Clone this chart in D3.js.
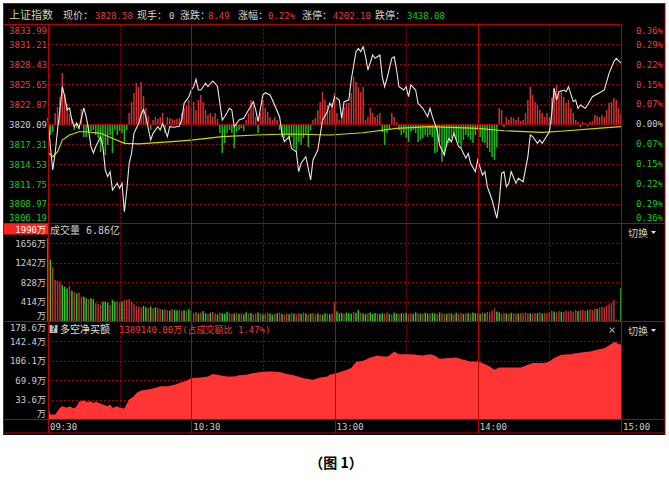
<!DOCTYPE html>
<html><head><meta charset="utf-8">
<script src="https://cdn.jsdelivr.net/npm/d3@7"></script>
<style>
html,body{margin:0;padding:0;background:#fff;}
svg{display:block;}
text{font-family:"DejaVu Sans Mono","Noto Sans CJK SC",monospace;}
</style></head><body>
<svg id="c" width="669" height="482"></svg>
<script>
// ---------------- DATA ----------------
const priceTicks = [3833.99,3831.21,3828.43,3825.65,3822.87,3820.09,3817.31,3814.53,3811.75,3808.97,3806.19];
const pctLabels  = ["0.36%","0.29%","0.22%","0.15%","0.07%","0.00%","0.07%","0.15%","0.22%","0.29%","0.36%"];
const volTicks   = [1656,1242,828,414];
const netTicks   = [178.6,142.4,106.1,69.9,33.6];
const timeTicks  = [0,60,120,180,240];
const timeLabels = ["09:30","10:30","13:00","14:00","15:00"];
const halfTicks  = [30,90,150,210];

// price line (minute index, price)
const priceMin = [0,1,2,3,4,5,6,7,8,9,10,11,12,13,15,16,17,18,19,20,22,23,24,25,26,27,29,30,31,32,33,34,35,36,38,39,40,41,43,44,46,47,48,50,51,53,55,56,57,59,60,61,62,63,64,66,67,69,70,71,73,74,76,77,78,80,82,84,86,87,88,90,91,93,94,97,98,99,101,102,104,105,106,108,110,111,113,114,115,117,118,119,120,122,123,124,126,127,129,130,131,132,133,134,136,137,139,140,141,142,144,145,146,147,149,150,151,152,154,155,157,159,160,161,163,164,166,167,168,169,170,172,173,175,176,177,179,180,182,183,184,186,188,189,190,191,192,193,194,196,197,199,201,202,203,205,206,207,210,211,212,213,214,216,217,218,220,221,222,223,225,226,228,231,233,235,237,238,240];
const priceVal = [3820.93,3816.92,3813.66,3816.04,3819.25,3822.05,3825.30,3823.90,3822.05,3822.33,3820.65,3819.71,3820.23,3819.53,3822.33,3821.11,3819.25,3816.92,3816.04,3816.92,3818.32,3816.92,3813.66,3812.73,3813.43,3810.87,3811.81,3811.11,3811.81,3807.84,3810.87,3814.60,3816.00,3818.79,3820.19,3821.35,3822.14,3821.11,3817.85,3818.79,3819.71,3819.25,3820.19,3818.32,3819.71,3819.63,3819.81,3820.65,3822.98,3823.90,3824.84,3825.30,3826.33,3824.84,3824.84,3825.78,3825.30,3826.10,3825.78,3825.30,3820.65,3821.11,3822.28,3822.05,3819.71,3820.65,3820.89,3822.05,3823.21,3822.05,3820.41,3824.14,3824.46,3824.14,3823.44,3821.11,3818.79,3817.62,3818.32,3816.70,3816.22,3813.43,3814.60,3815.52,3812.27,3815.06,3816.46,3818.55,3820.65,3821.81,3822.98,3822.51,3823.90,3823.44,3820.89,3823.21,3823.44,3826.24,3830.19,3830.66,3830.19,3830.89,3829.49,3827.63,3829.73,3829.27,3829.73,3826.70,3825.30,3826.47,3829.27,3829.49,3827.63,3825.30,3824.84,3825.30,3823.90,3825.54,3824.84,3822.98,3822.28,3821.11,3822.28,3821.11,3819.25,3817.16,3815.76,3817.39,3818.09,3817.62,3818.79,3816.92,3816.70,3815.30,3816.00,3814.60,3813.43,3815.06,3812.97,3813.43,3811.33,3809.47,3806.92,3809.24,3813.20,3813.43,3811.33,3811.81,3813.43,3811.81,3812.50,3812.03,3815.52,3818.55,3818.32,3817.39,3817.85,3817.39,3819.01,3821.58,3825.08,3823.44,3824.60,3824.84,3824.60,3825.30,3823.21,3823.44,3822.28,3822.74,3822.28,3822.74,3823.90,3824.46,3824.84,3827.17,3828.79,3829.27,3828.58];

// average price line
const avgMin = [0,2,4,6,9,13,16,22,27,32,38,52,60,73,87,101,118,132,146,160,180,191,207,216,230,240];
const avgVal = [3816.10,3815.52,3816.22,3817.85,3818.55,3819.01,3819.01,3818.79,3818.09,3817.39,3817.30,3817.62,3817.85,3818.32,3818.55,3818.69,3818.55,3818.87,3819.49,3819.71,3819.49,3819.15,3818.93,3819.11,3819.49,3819.71];

// red/green strength bars in the price panel, one per minute
const strength = [0,-11,-8,11,17,27,51,30,20,10,5,
 -6,-4,-5,15,-13,-13,-8,-7,-6,-11,
 -14,-28,-20,-31,-21,-11,-29,-6,-11,-7,
 -9,-19,-6,11,22,31,41,37,42,28,
 16,8,-6,4,7,5,7,11,-9,7,
 6,5,4,5,6,11,16,19,24,17,
 22,14,24,29,22,14,9,11,7,11,
 5,-9,-29,-19,-9,-6,-9,-24,-8,-6,
 -4,-7,4,11,24,19,7,-9,11,24,
 16,12,7,4,7,4,-6,-13,-14,-11,
 -16,-13,-24,-28,-18,-21,-14,-11,-23,-6,
 4,6,14,22,32,24,19,14,21,31,
 11,4,11,17,21,21,31,47,42,37,
 32,37,4,7,16,11,7,9,11,-8,
 -21,-9,-6,11,7,2,-6,-11,-9,-14,
 -18,-8,-6,-9,-18,-16,-14,-11,-13,-11,
 -13,-29,-28,-18,-38,-31,-23,-19,-14,-11,
 -16,-19,-24,-16,-11,-13,-16,-19,-11,-6,
 -13,-18,-19,-24,-28,-33,-36,-23,16,14,
 -3,7,4,7,6,4,7,3,4,11,
 24,37,29,22,19,14,11,7,11,7,
 26,36,39,31,34,27,21,24,16,11,
 4,2,-3,2,1,-2,2,3,9,8,
 7,9,7,14,21,22,26,24,16,10];

// volume per minute (万) and its colour (r = up, g = down)
const volume = [1760,1310,1145,880,860,840,770,735,700,750,650,630,595,610,525,525,490,470,490,470,
 385,370,350,420,420,400,350,455,420,420,400,420,455,455,475,420,370,330,315,300,
 330,300,280,315,280,300,290,270,250,260,240,230,260,245,235,250,225,240,230,260,
 230,180,200,170,190,220,175,160,185,200,170,150,190,175,165,205,180,160,170,185,
 160,175,150,195,170,180,155,165,190,175,150,160,185,170,145,165,175,190,160,150,
 170,155,180,165,150,175,160,190,170,155,165,180,150,170,160,145,175,165,155,170,
 400,215,170,180,160,190,175,165,200,185,240,180,170,160,175,190,165,180,170,160,
 175,165,190,160,150,185,170,160,175,165,180,155,170,160,190,175,165,160,185,170,
 165,180,170,155,190,175,165,160,180,170,155,185,165,175,160,170,180,165,190,175,
 170,160,185,175,200,190,230,280,210,190,165,175,170,160,185,175,165,170,180,175,
 190,175,170,165,180,175,190,170,185,175,200,230,210,195,220,205,200,230,215,225,
 210,240,220,235,245,225,240,260,250,270,265,290,310,300,340,360,390,450,45,30,
 700];
const volDir = "ggrrrrgggrgrgrrggrgg"+"rrrgggrggrrgrrrrrrrr"+"ggrgrgrrgrrgrggrrgrg"+"grrgrggrgrrgrgggrrgr"+
 "grggrgrrgrgrrggrgrgr"+"rgrgrrgrgrgrrgrggrgr"+"rgggrgggrggrggrgggrg"+"grrgrggrgrgrrggrgrgg"+
 "rggrgrrgrgrgrrgrgrgg"+"rgrgrrrrggrrgrgrrgrr"+"rrgrrgrgrrrrgrrgrrrr"+"rrgrrrgrrrgrrrrrrrrr"+"g";

// net buy (多空净买额) curve (minute, value)
const netMin = [0,1,3,4,5,6,8,9,11,12,13,15,16,18,19,20,22,23,25,26,27,29,30,32,33,34,36,37,39,41,44,47,50,53,55,58,60,64,67,69,72,75,78,80,83,86,89,92,94,97,100,103,106,108,111,114,117,118,121,124,127,129,132,135,138,140,142,143,145,147,152,154,157,160,162,164,168,171,174,177,180,182,185,187,189,194,198,201,203,208,210,212,215,219,221,224,227,230,233,235,237,238,239,240];
const netVal = [21.9,6.6,6.6,12.7,18.9,21.9,18.9,21.9,17.6,21.9,30,32.4,30,31,28,30,26.3,25,21.9,25,18.9,21.9,18.9,17.6,26.3,34.2,40.3,46.5,50.8,52.6,54.5,58.7,58.7,61.8,64.9,69.1,74.1,75.2,77.1,81.5,79,77.1,77.1,79,80.2,83.3,85,86.3,86.3,85,81.5,79,75.2,72.7,70.9,75.2,77.1,80.2,83.3,87.5,92.5,103.5,106,112,115.7,113.9,113.9,115.7,123,118.1,118.1,116.9,115.7,118.1,115.7,109.6,110.9,112,107.8,104.7,104.7,101.7,95.5,89.4,93.7,93.7,93.7,98.6,101.7,101.7,104.7,110.9,117,118.1,119.9,121.7,123,126.2,129.3,134.1,140.3,140.3,136.7,136.7];

// header texts
const headTitle = "上证指数";
const headItems = [["现价：","3828.58","r"],["现手：","0","w"],["涨跌：","8.49","r"],["涨幅：","0.22%","r"],["涨停：","4202.10","r"],["跌停：","3438.08","g"]];

// ---------------- DRAW ----------------
const L=48,R=621,T=24.5,P1=223.5,P2=321.5,P3=419.5,B=433;
const C={grid:"#a00000",solid:"#b80000",red:"#ec3c3c",green:"#1ec81e",gray:"#cccccc",
  barR:"#cc3232",barG:"#1fb41f",vR:"#b43232",vG:"#2ec42e",area:"#ff3434",line:"#e8e8e8",avg:"#d6d600"};
const svg=d3.select("#c");
const x=d3.scaleLinear().domain([0,240]).range([L,R]);
const yP=d3.scaleLinear().domain([3806.19,3833.99]).range([P1,T]);
const yI=d3.scaleLinear().domain([-99.5,99.5]).range([P1,T]);
const yV=d3.scaleLinear().domain([0,2070]).range([P2,P1]);
const yN=d3.scaleLinear().domain([-2.6,178.6]).range([P3,P2]);

svg.append("rect").attr("x",3).attr("y",3).attr("width",662).attr("height",432).attr("fill","#000");

function hline(y,x1,x2,dash,col){svg.append("line").attr("x1",x1).attr("x2",x2).attr("y1",y).attr("y2",y)
  .attr("stroke",col|| (dash?C.grid:C.solid)).attr("stroke-width",1).attr("stroke-dasharray",dash?"2,2":null);}
function vline(xx,y1,y2,dash,col){svg.append("line").attr("x1",xx).attr("x2",xx).attr("y1",y1).attr("y2",y2)
  .attr("stroke",col||(dash?C.grid:C.solid)).attr("stroke-width",1).attr("stroke-dasharray",dash?"2,2":null);}

// horizontal grids
priceTicks.slice(1,-1).forEach(v=>{ if(v!==3820.09) hline(Math.round(yP(v))+0.5,L,R,true); });
volTicks.forEach(v=>hline(Math.round(yV(v))+0.5,L,R,true));
netTicks.slice(1).forEach(v=>hline(Math.round(yN(v))+0.5,L,R,true));
// vertical grids
halfTicks.forEach(m=>vline(Math.round(x(m))+0.5,T,P3,true));

// strength bars
svg.append("g").selectAll("rect").data(strength).join("rect")
  .attr("x",(d,i)=>x(i)-0.75).attr("width",1.5)
  .attr("y",d=>yI(Math.max(d,0))).attr("height",d=>Math.abs(yI(d)-yI(0)))
  .attr("fill",d=>d>=0?C.barR:C.barG);
// zero line
hline(Math.round(yP(3820.09))+0.5,L,R,false,"#a00000");

// average line & price line
svg.append("path").datum(avgMin.map((m,i)=>[m,avgVal[i]]))
  .attr("d",d3.line().x(d=>x(d[0])).y(d=>yP(d[1]))).attr("fill","none").attr("stroke",C.avg).attr("stroke-width",1.2);
svg.append("path").datum(priceMin.map((m,i)=>[m,priceVal[i]]))
  .attr("d",d3.line().x(d=>x(d[0])).y(d=>yP(d[1]))).attr("fill","none").attr("stroke",C.line).attr("stroke-width",1.1);

// volume bars
svg.append("g").selectAll("rect").data(volume).join("rect")
  .attr("x",(d,i)=>x(i)-0.75).attr("width",1.5)
  .attr("y",d=>yV(d)).attr("height",d=>yV(0)-yV(d))
  .attr("fill",(d,i)=>volDir[i]==="r"?C.vR:C.vG);

// net buy area
svg.append("path").datum(netMin.map((m,i)=>[m,netVal[i]]))
  .attr("d",d3.area().x(d=>x(d[0])).y0(yN(-2.6)).y1(d=>yN(d[1])))
  .attr("fill",C.area);

// solid structure lines
timeTicks.forEach(m=>vline(Math.round(x(m))+0.5,T,B,false));
hline(T,3,R,false);
[P1,P2,P3,B].forEach(y=>hline(y,3,665,false));
vline(665,3,435,false); vline(3.5,3,435,false);
hline(3.5,3,665,false);

// ----- texts -----
function txt(xx,y,s,col,anchor,size,weight){return svg.append("text").attr("x",xx).attr("y",y).text(s)
  .attr("fill",col).attr("text-anchor",anchor||"start").attr("font-size",size||9).attr("font-weight",weight||null);}

// price axis (left) & percent (right)
const axL=svg.append("g").attr("transform",`translate(${L-1},0)`)
  .call(d3.axisLeft(yP).tickValues(priceTicks).tickSize(0).tickPadding(0).tickFormat(d3.format(".2f")));
axL.select(".domain").remove();
axL.attr("font-family",null).attr("font-size",null);
axL.selectAll("text").attr("font-size",9).attr("dy",null)
  .attr("y",(d,i)=> i===0?9:(i===priceTicks.length-1?-3:3.3))
  .attr("fill",(d,i)=> i<5?C.red:(i===5?C.gray:C.green));
priceTicks.forEach((v,i)=>{
  txt(663, yP(v)+(i===0?9:(i===priceTicks.length-1?-3:3.3)), pctLabels[i], i<5?C.red:(i===5?C.gray:C.green),"end");
});

// volume labels
svg.append("rect").attr("x",4).attr("y",P1).attr("width",44).attr("height",11).attr("fill","#ff2020");
txt(46,P1+9.5,"1990万","#ffffff","end");
volTicks.forEach(v=>txt(46,yV(v)+3.5,v+"万",C.gray,"end"));
txt(46,yV(0)-3,"万",C.gray,"end");
txt(50,P1+10,"成交量 6.86亿",C.gray,"start",10);

// net buy labels
netTicks.forEach((v,i)=>txt(46,yN(v)+(i===0?9.5:3.5),v.toFixed(1)+"万",C.gray,"end"));
txt(46,P3-3,"万",C.gray,"end");
svg.append("rect").attr("x",49.5).attr("y",P2+3.5).attr("width",8).attr("height",8).attr("fill","#bdbdbd");
txt(53.5,P2+10.5,"?","#000","middle",8,"bold");
txt(60,P2+11.5,"多空净买额","#e0e0e0","start",10);
txt(119,P2+11,"1389140.00万(占成交额比 1.47%)",C.red,"start",9);
txt(612,P2+12,"×","#a8a8a8","middle",12);

// switch buttons
[P1,P2].forEach(y=>{
  txt(628,y+13,"切换","#d0d0d0","start",10);
  svg.append("path").attr("d",`M${651},${y+7.5}h5l-2.5,3z`).attr("fill","#e0e0e0");
});

// time axis
const axB=svg.append("g").attr("transform",`translate(0,${P3})`)
  .call(d3.axisBottom(x).tickValues(timeTicks).tickSize(0).tickPadding(0).tickFormat((d,i)=>timeLabels[i]));
axB.select(".domain").remove();
axB.attr("font-family",null).attr("font-size",null);
axB.selectAll("text").attr("font-size",9).attr("dy",null).attr("y",10.5).attr("dx",1.5)
  .attr("text-anchor","start").attr("fill",C.gray);

// header
txt(9,19,headTitle,"#d8d29a","start",11);
const headX=[63,137,180,238,302,375], valX=[95,169,208,268,333,407];
headItems.forEach((h,i)=>{
  txt(headX[i],19,h[0],"#d4d4d4","start",10);
  txt(valX[i],19,h[1],h[2]==="r"?C.red:(h[2]==="g"?C.green:"#d4d4d4"),"start",9);
});

// caption
svg.append("text").attr("x",336).attr("y",468).attr("text-anchor","middle")
  .attr("font-family","'Noto Sans CJK SC','Liberation Serif',serif").style("font-family","'Noto Sans CJK SC','Liberation Serif',serif")
  .attr("font-size",14).attr("font-weight","bold").attr("fill","#000").text("（图 1）");
</script>
</body></html>
